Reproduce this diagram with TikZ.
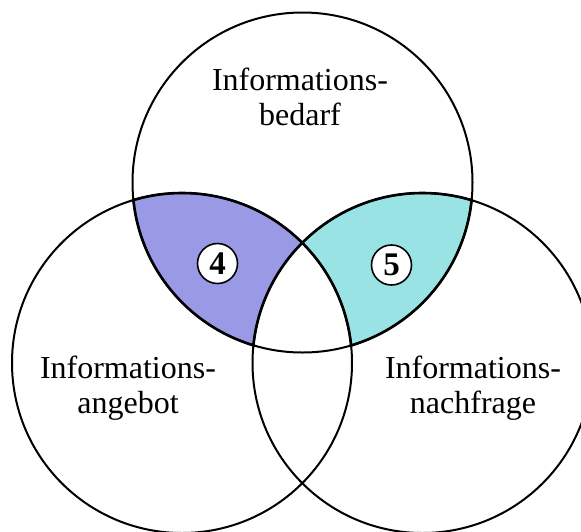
\documentclass[tikz,border=0pt]{standalone}
\usepackage{fontspec}
\setmainfont{Liberation Serif}
\definecolor{regionblue}{RGB}{153,153,229}
\definecolor{regioncyan}{RGB}{154,227,228}
\tikzset{
  setcircle/.style={circle, draw=black, line width=2pt, minimum size=340pt, inner sep=0pt},
  setlabel/.style={align=center, font=\fontsize{32}{35}\selectfont, inner sep=0pt},
  numbadge/.style={circle, draw=black, line width=1.6pt, fill=white, minimum size=40pt,
    inner sep=0pt, font=\fontsize{33}{33}\selectfont\bfseries},
  regionedge/.style={draw=black, line width=2.6pt},
}
\begin{document}
\begin{tikzpicture}[x=1pt,y=-1pt]
\useasboundingbox (0,0) rectangle (581,531);
\clip (0,0) rectangle (581,531);
\coordinate (ct) at (302.5,182.5);
\coordinate (cl) at (182,363);
\coordinate (cr) at (422.5,363);

% Bedarf and Angebot, without Nachfrage
\begin{scope}
  \clip (ct) circle (170pt);
  \clip (cl) circle (170pt);
  \fill[regionblue, even odd rule] (-100,-100) rectangle (700,700) (cr) circle (170pt);
\end{scope}
% Bedarf and Nachfrage, without Angebot
\begin{scope}
  \clip (ct) circle (170pt);
  \clip (cr) circle (170pt);
  \fill[regioncyan, even odd rule] (-100,-100) rectangle (700,700) (cl) circle (170pt);
\end{scope}

% slightly heavier edges along the shaded regions
\begin{scope}[even odd rule]
  \clip (ct) circle (171.5pt);
  \clip (cl) circle (171.5pt);
  \clip (-100,-100) rectangle (700,700) (cr) circle (168.5pt);
  \draw[regionedge] (ct) circle (170pt) (cl) circle (170pt) (cr) circle (170pt);
\end{scope}
\begin{scope}[even odd rule]
  \clip (ct) circle (171.5pt);
  \clip (cr) circle (171.5pt);
  \clip (-100,-100) rectangle (700,700) (cl) circle (168.5pt);
  \draw[regionedge] (ct) circle (170pt) (cl) circle (170pt) (cr) circle (170pt);
\end{scope}

% the three sets
\node[setcircle] (bedarf) at (ct) {};
\node[setcircle] (angebot) at (cl) {};
\node[setcircle] (nachfrage) at (cr) {};

% set names
\node[setlabel] (lblBedarf) at (300,97) {Informations-\\bedarf};
\node[setlabel] (lblAngebot) at (128,388) {Informations-\\angebot};
\node[setlabel] (lblNachfrage) at (473,388) {Informations-\\nachfrage};

% region numbers
\node[numbadge] (n4) at (217.5,263.5) {4};
\node[numbadge] (n5) at (391.5,265) {5};
\end{tikzpicture}
\end{document}
